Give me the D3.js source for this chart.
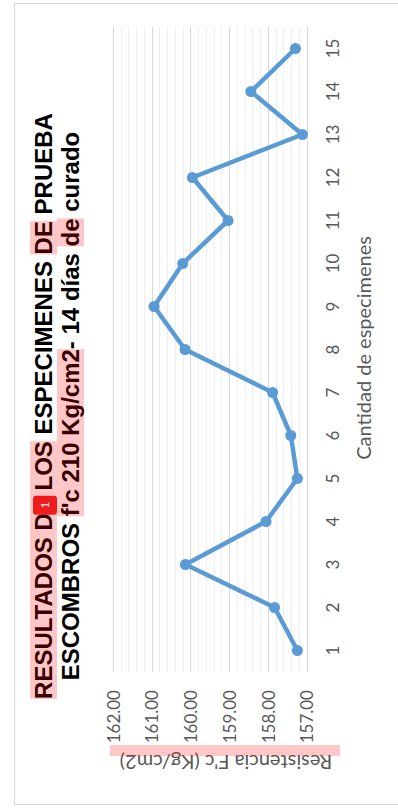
<!DOCTYPE html>
<html>
<head>
<meta charset="utf-8">
<script src="https://cdn.jsdelivr.net/npm/d3@7"></script>
<style>
  html, body { margin: 0; padding: 0; background: #fff; }
  svg { display: block; }
  text { white-space: pre; }
</style>
</head>
<body>
<svg id="chart" width="398" height="808"></svg>
<script>
// Specimen numbers and their compressive strength at 14 days (kg/cm2)
const specimens = [1, 2, 3, 4, 5, 6, 7, 8, 9, 10, 11, 12, 13, 14, 15];
const resistance = [157.24, 157.83, 160.13, 158.05, 157.24, 157.41, 157.88, 160.14, 160.94, 160.20, 159.03, 159.95, 157.11, 158.44, 157.29];
const valueTicks = [157, 158, 159, 160, 161, 162];

// Title lines, split into runs; "hl" runs carry a pink highlight, "mark" a red comment badge
const titleLine1 = [
  { t: "RESULTADOS D", hl: true },
  { t: "E", hl: true, mark: "1" },
  { t: " LOS", hl: true },
  { t: " ESPECIMENES ", hl: false },
  { t: "DE", hl: true },
  { t: " PRUEBA", hl: false }
];
const titleLine2 = [
  { t: "ESCOMBROS ", hl: false },
  { t: "f'c 210 Kg/cm2", hl: true },
  { t: "- 14 días ", hl: false },
  { t: "de", hl: true },
  { t: " curado", hl: false }
];
const valueTitle = "Resistencia F'c (Kg/cm2)";
const categoryTitle = "Cantidad de especimenes";

const svg = d3.select("#chart");
const labelFont = "Lato, 'Open Sans', sans-serif";
const gray = "#595959";
const hlFill = "rgba(255,0,0,0.22)";

// chart frame
svg.append("rect")
  .attr("x", 14.5).attr("y", 3.5)
  .attr("width", 400).attr("height", 801)
  .attr("fill", "none").attr("stroke", "#d9d9d9");

// The chart is laid on its side: values run right-to-left, specimens bottom-to-top
const x = d3.scaleLinear().domain([157, 162]).range([306.7, 113]);
const y = d3.scaleBand().domain(specimens).range([672, 27]);
const yc = d => y(d) + y.bandwidth() / 2;

// minor gridlines
const grid = svg.append("g");
grid.selectAll("line.minor")
  .data(x.ticks(25).filter(v => !valueTicks.includes(Math.round(v * 1000) / 1000)))
  .join("line")
  .attr("class", "minor")
  .attr("x1", d => Math.round(x(d)) + 0.5).attr("x2", d => Math.round(x(d)) + 0.5)
  .attr("y1", 27).attr("y2", 672)
  .attr("stroke", "#efefef").attr("stroke-width", 1);

// major gridlines
grid.selectAll("line.major")
  .data(valueTicks)
  .join("line")
  .attr("class", "major")
  .attr("x1", d => Math.round(x(d)) + 0.5).attr("x2", d => Math.round(x(d)) + 0.5)
  .attr("y1", 27).attr("y2", 672)
  .attr("stroke", "#d9d9d9").attr("stroke-width", 1);

// value axis (labels read bottom-to-top)
const valueAxis = svg.append("g")
  .attr("transform", "translate(0,690)")
  .call(d3.axisBottom(x).tickValues(valueTicks).tickFormat(d3.format(".2f")).tickSize(0));
valueAxis.select(".domain").remove();
valueAxis.selectAll("text")
  .attr("x", 0).attr("y", 0).attr("dy", "0.36em")
  .attr("transform", "rotate(-90)")
  .style("text-anchor", "end")
  .style("font-family", labelFont).style("font-size", "17px")
  .attr("fill", gray);

// category axis
const catAxis = svg.append("g")
  .attr("transform", "translate(333,0)")
  .call(d3.axisRight(y).tickSize(0));
catAxis.select(".domain").remove();
catAxis.selectAll("text")
  .attr("x", 0).attr("y", 0).attr("dy", "0.36em")
  .attr("transform", "rotate(-90)")
  .style("text-anchor", "middle")
  .style("font-family", labelFont).style("font-size", "17px")
  .attr("fill", gray);

// series line and markers
const line = d3.line().x(d => x(d[1])).y(d => yc(d[0]));
const pts = specimens.map((s, i) => [s, resistance[i]]);
svg.append("path")
  .datum(pts)
  .attr("d", line)
  .attr("fill", "none")
  .attr("stroke", "#5b9bd5")
  .attr("stroke-width", 4.5)
  .attr("stroke-linejoin", "round");
svg.selectAll("circle.pt")
  .data(pts)
  .join("circle")
  .attr("class", "pt")
  .attr("cx", d => x(d[1])).attr("cy", d => yc(d[0]))
  .attr("r", 5.5)
  .attr("fill", "#5b9bd5");

// title
const titleG = svg.append("g").attr("transform", "translate(0,406) rotate(-90)");
function titleLine(runs, baseline) {
  const txt = titleG.append("text")
    .attr("x", 0).attr("y", baseline)
    .attr("text-anchor", "middle")
    .style("font-family", "'Liberation Sans', Arial, sans-serif")
    .style("font-weight", "bold")
    .style("font-size", "24px")
    .attr("fill", "#000");
  runs.forEach(r => txt.append("tspan").text(r.t));
  const node = txt.node();
  const box = node.getBBox();
  let idx = 0;
  runs.forEach(r => {
    const n = r.t.length;
    const x0 = node.getStartPositionOfChar(idx).x;
    const x1 = node.getEndPositionOfChar(idx + n - 1).x;
    if (r.hl) {
      titleG.append("rect")
        .attr("x", x0).attr("y", box.y)
        .attr("width", x1 - x0).attr("height", box.height)
        .attr("fill", hlFill);
    }
    if (r.mark) {
      const bx = x0 - 1.5, bw = (x1 - x0) + 3;
      titleG.append("rect")
        .attr("x", bx).attr("y", baseline - 19)
        .attr("width", bw).attr("height", 24)
        .attr("rx", 3)
        .attr("fill", "#ee1c1c");
      titleG.append("text")
        .attr("x", bx + bw / 2).attr("y", baseline - 7)
        .attr("dy", "0.35em")
        .attr("text-anchor", "middle")
        .style("font-family", labelFont).style("font-size", "11px")
        .attr("fill", "#fff")
        .text(r.mark);
    }
    idx += n;
  });
}
titleLine(titleLine1, 52);
titleLine(titleLine2, 79);

// value axis title (upside down) with its highlight bar
svg.append("text")
  .attr("transform", "translate(226,755) rotate(180)")
  .attr("text-anchor", "middle")
  .style("font-family", labelFont).style("font-size", "20px")
  .attr("fill", gray)
  .text(valueTitle);
svg.append("rect")
  .attr("x", 110).attr("y", 745)
  .attr("width", 230).attr("height", 11)
  .attr("fill", hlFill);

// category axis title
svg.append("text")
  .attr("transform", "translate(371,348) rotate(-90)")
  .attr("text-anchor", "middle")
  .style("font-family", labelFont).style("font-size", "20px")
  .attr("fill", gray)
  .text(categoryTitle);
</script>
</body>
</html>
